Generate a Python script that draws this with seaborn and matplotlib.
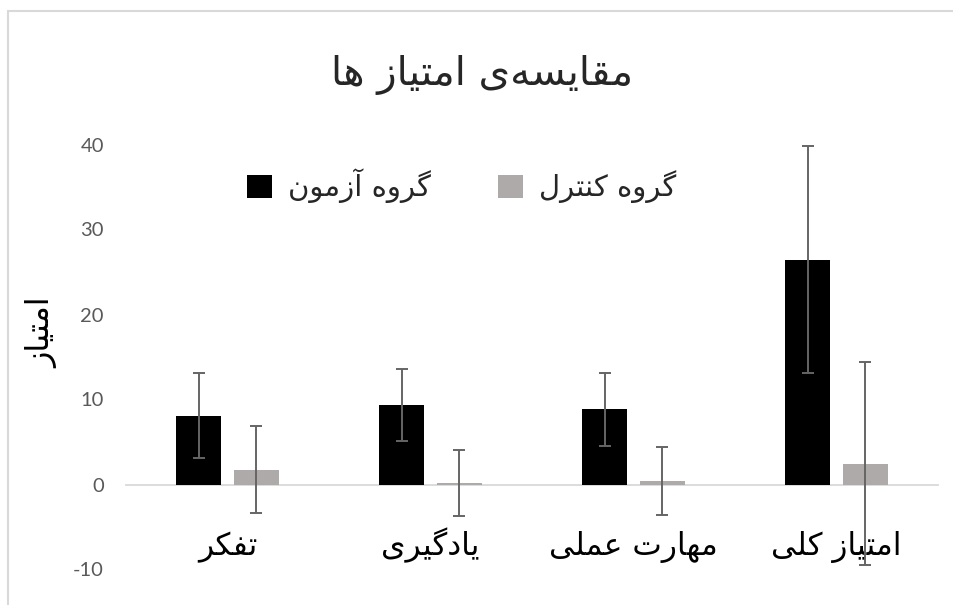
import matplotlib
matplotlib.use("Agg")
import matplotlib.pyplot as plt
from matplotlib.patches import Patch, Rectangle
import seaborn as sns
import pandas as pd

# ---------------- data ----------------
title_text = "مقایسه\u200cی امتیاز ها"
y_label_text = "امتیاز"
categories = ["تفکر", "یادگیری", "مهارت عملی", "امتیاز کلی"]
groups = ["گروه آزمون", "گروه کنترل"]
test_values = [8.1, 9.35, 8.85, 26.45]
test_errors = [5.0, 4.25, 4.3, 13.35]
control_values = [1.76, 0.2, 0.37, 2.47]
control_errors = [5.1, 3.85, 4.0, 11.95]
y_ticks = [-10, 0, 10, 20, 30, 40]
colors = ["#000000", "#AEAAAA"]

# ------------- minimal Arabic/Persian shaping for display -------------
FORMS = {
    '\u0627': ('\uFE8D', '\uFE8E', None, None),
    '\u0622': ('\uFE81', '\uFE82', None, None),
    '\u0628': ('\uFE8F', '\uFE90', '\uFE91', '\uFE92'),
    '\u062A': ('\uFE95', '\uFE96', '\uFE97', '\uFE98'),
    '\u062F': ('\uFEA9', '\uFEAA', None, None),
    '\u0631': ('\uFEAD', '\uFEAE', None, None),
    '\u0632': ('\uFEAF', '\uFEB0', None, None),
    '\u0633': ('\uFEB1', '\uFEB2', '\uFEB3', '\uFEB4'),
    '\u0639': ('\uFEC9', '\uFECA', '\uFECB', '\uFECC'),
    '\u0641': ('\uFED1', '\uFED2', '\uFED3', '\uFED4'),
    '\u0642': ('\uFED5', '\uFED6', '\uFED7', '\uFED8'),
    '\u0643': ('\uFED9', '\uFEDA', '\uFEDB', '\uFEDC'),
    '\u0644': ('\uFEDD', '\uFEDE', '\uFEDF', '\uFEE0'),
    '\u0645': ('\uFEE1', '\uFEE2', '\uFEE3', '\uFEE4'),
    '\u0646': ('\uFEE5', '\uFEE6', '\uFEE7', '\uFEE8'),
    '\u0647': ('\uFEE9', '\uFEEA', '\uFEEB', '\uFEEC'),
    '\u0648': ('\uFEED', '\uFEEE', None, None),
    '\u064A': ('\uFEF1', '\uFEF2', '\uFEF3', '\uFEF4'),
    '\u06A9': ('\uFB8E', '\uFB8F', '\uFB90', '\uFB91'),
    '\u06AF': ('\uFB92', '\uFB93', '\uFB94', '\uFB95'),
    '\u06CC': ('\uFBFC', '\uFBFD', '\uFBFE', '\uFBFF'),
}


def shape(s):
    out = []
    for i, c in enumerate(s):
        if c not in FORMS:
            if c != '\u200c':
                out.append(c)
            continue
        f = FORMS[c]
        prev = s[i - 1] if i > 0 else ''
        nxt = s[i + 1] if i + 1 < len(s) else ''
        pj = prev in FORMS and FORMS[prev][2] is not None
        nj = f[2] is not None and nxt in FORMS
        if pj and nj:
            g = f[3]
        elif pj:
            g = f[1]
        elif nj:
            g = f[2]
        else:
            g = f[0]
        out.append(g)
    return ''.join(reversed(out))


# ---------------- figure ----------------
sns.set_theme(style="white")
plt.rcParams['font.family'] = ['DejaVu Sans']

fig = plt.figure(figsize=(9.54, 6.05), dpi=100)
ax = fig.add_axes([126 / 954, 35.5 / 605, 812 / 954, 425 / 605])

df = pd.DataFrame({
    "category": categories * 2,
    "group": [groups[0]] * len(categories) + [groups[1]] * len(categories),
    "value": test_values + control_values,
})

sns.barplot(data=df, x="category", y="value", hue="group", order=categories,
            hue_order=groups, palette=colors, saturation=1, width=0.57,
            gap=0.214, errorbar=None, linewidth=0, legend=False, ax=ax)

for cont, errs in zip(ax.containers, [test_errors, control_errors]):
    xs = [b.get_x() + b.get_width() / 2 for b in cont]
    ys = [b.get_height() for b in cont]
    ax.errorbar(xs, ys, yerr=errs, fmt="none", ecolor="#656565",
                elinewidth=1.4, capsize=4, capthick=1.4, zorder=3)

# axis line at zero (category axis crosses at 0)
for side in ["top", "right", "left"]:
    ax.spines[side].set_visible(False)
ax.spines["bottom"].set_position(("data", 0))
ax.spines["bottom"].set_color("#D9D9D9")
ax.spines["bottom"].set_linewidth(1.3)
ax.spines["bottom"].set_zorder(0.5)
ax.grid(False)

ax.set_xlim(-0.5, 3.5)
ax.set_ylim(-10, 40)
ax.set_yticks(y_ticks)
ax.set_yticklabels([str(t) for t in y_ticks], family="Lato", fontsize=14.5,
                   color="#595959")
ax.tick_params(axis="y", length=0, pad=16)
ax.tick_params(axis="x", length=0, pad=51, labelsize=22.5, labelcolor="black")
ax.set_xticks(range(len(categories)))
ax.set_xticklabels([shape(c) for c in categories], va="baseline")
ax.set_xlabel("")

ax.set_ylabel(shape(y_label_text), fontsize=23, color="black", va="center")
ax.yaxis.set_label_coords(-0.1034, 0.5565)

fig.suptitle(shape(title_text), x=0.505, y=0.876, va="center", fontsize=29)

handles = [Patch(facecolor=c, edgecolor="none") for c in colors]
fig.legend(handles, [shape(g) for g in groups], ncol=2, loc="center left",
           bbox_to_anchor=(247 / 954, 0.6926), frameon=False, fontsize=21,
           borderpad=0, borderaxespad=0,
           handlelength=0.86, handleheight=0.86, handletextpad=0.55,
           columnspacing=2.3)

# chart frame
fig.patches.append(Rectangle((8 / 954, -0.05), 1.2, 0.05 + 594 / 605,
                             transform=fig.transFigure, fill=False,
                             edgecolor="#D9D9D9", linewidth=1.5))

fig.savefig("out.png", dpi=100, facecolor="white")
